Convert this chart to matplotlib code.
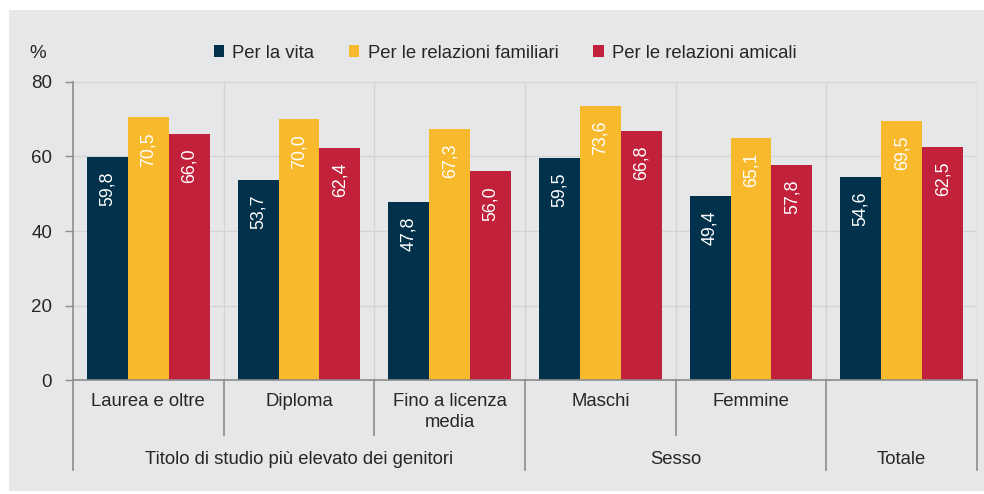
import matplotlib
matplotlib.use("Agg")
import matplotlib.pyplot as plt
from matplotlib.patches import Rectangle
from matplotlib.transforms import blended_transform_factory
import numpy as np

plt.rcParams['font.family'] = ['Liberation Sans', 'DejaVu Sans']

categories = ["Laurea e oltre", "Diploma", "Fino a licenza\nmedia", "Maschi", "Femmine", ""]
group_names = ["Titolo di studio più elevato dei genitori", "Sesso", "Totale"]
group_sizes = [3, 2, 1]
series_names = ["Per la vita", "Per le relazioni familiari", "Per le relazioni amicali"]
per_la_vita = [59.8, 53.7, 47.8, 59.5, 49.4, 54.6]
relazioni_familiari = [70.5, 70.0, 67.3, 73.6, 65.1, 69.5]
relazioni_amicali = [66.0, 62.4, 56.0, 66.8, 57.8, 62.5]
y_ticks = [0, 20, 40, 60, 80]

colors = ["#02324b", "#f9b92c", "#c1213a"]
bg = "#e6e7e9"
grid_col = "#d3d4d6"
axis_col = "#8c8c8c"
text_col = "#262626"

fig = plt.figure(figsize=(9.84, 4.94), dpi=100)
fig.patch.set_facecolor("white")
W, H = 984, 494
fig.patches.append(Rectangle((9 / W, 1 - 491 / H), 1 - 9 / W, (491 - 10) / H,
                             transform=fig.transFigure, facecolor=bg,
                             edgecolor="none", zorder=-10))

ax = fig.add_axes([73 / W, 1 - 380 / H, (977 - 73) / W, (380 - 82) / H])
ax.set_facecolor(bg)
ax.patch.set_alpha(0)

n = len(categories)
x = np.arange(n)
width = 0.272
series = [per_la_vita, relazioni_familiari, relazioni_amicali]
for j, (vals, name, col) in enumerate(zip(series, series_names, colors)):
    pos = x + (j - 1) * width
    bars = ax.bar(pos, vals, width=width, color=col, label=name, zorder=3,
                  edgecolor="none")
    for b, v in zip(bars, vals):
        ax.annotate(f"{v:.1f}".replace(".", ","),
                    xy=(b.get_x() + b.get_width() / 2, v),
                    xytext=(0, -10.5), textcoords="offset points",
                    rotation=90, ha="center", va="top", color="white",
                    fontsize=12.8, zorder=4)

ax.set_xlim(-0.5, n - 0.5)
ax.set_ylim(0, 80)
ax.set_yticks(y_ticks)
ax.set_yticklabels([str(t) for t in y_ticks], fontsize=13.5, color=text_col)
ax.tick_params(axis="y", length=6, width=1, color=axis_col, pad=9)
ax.set_xticks([])

for s in ["top", "right"]:
    ax.spines[s].set_visible(False)
ax.spines["left"].set_color(axis_col)
ax.spines["bottom"].set_color(axis_col)
ax.spines["left"].set_linewidth(1.2)
ax.spines["bottom"].set_linewidth(1.2)
ax.spines["bottom"].set_zorder(5)

# grid: horizontal at ticks, vertical at category boundaries
for t in y_ticks[1:]:
    ax.axhline(t, color=grid_col, lw=1, zorder=1)
for b in np.arange(0.5, n, 1.0):
    ax.axvline(b, color=grid_col, lw=1, zorder=1)

# hierarchical axis below the plot
trans = blended_transform_factory(ax.transData, ax.transAxes)
px = 1 / (380 - 82)
y_minor = -(435 - 380) * px
y_major = -(470 - 380) * px
major_bounds = np.concatenate([[0], np.cumsum(group_sizes)]) - 0.5
for b in np.arange(-0.5, n, 1.0):
    yb = y_major if np.any(np.isclose(b, major_bounds)) else y_minor
    ax.plot([b, b], [0, yb], color=axis_col, lw=1.2, transform=trans,
            clip_on=False, zorder=5)

for i, lab in enumerate(categories):
    ax.text(i, -(393 - 380) * px, lab, transform=trans, ha="center", va="top",
            fontsize=13.3, color=text_col, linespacing=1.3)

start = 0
for name, size in zip(group_names, group_sizes):
    centre = start + (size - 1) / 2
    ax.text(centre, -(459 - 380) * px, name, transform=trans, ha="center",
            va="center", fontsize=13.3, color=text_col)
    start += size

fig.text(38 / W, 1 - 54 / H, "%", ha="center", va="center", fontsize=13.5,
         color=text_col)

leg = fig.legend(loc="center", bbox_to_anchor=(505 / W, 1 - 53 / H), ncol=3,
                 frameon=False, fontsize=13.3, handlelength=0.55,
                 handleheight=0.55, handletextpad=0.45, columnspacing=1.9,
                 borderpad=0)
for t in leg.get_texts():
    t.set_color(text_col)

fig.savefig("out.png", dpi=100)
